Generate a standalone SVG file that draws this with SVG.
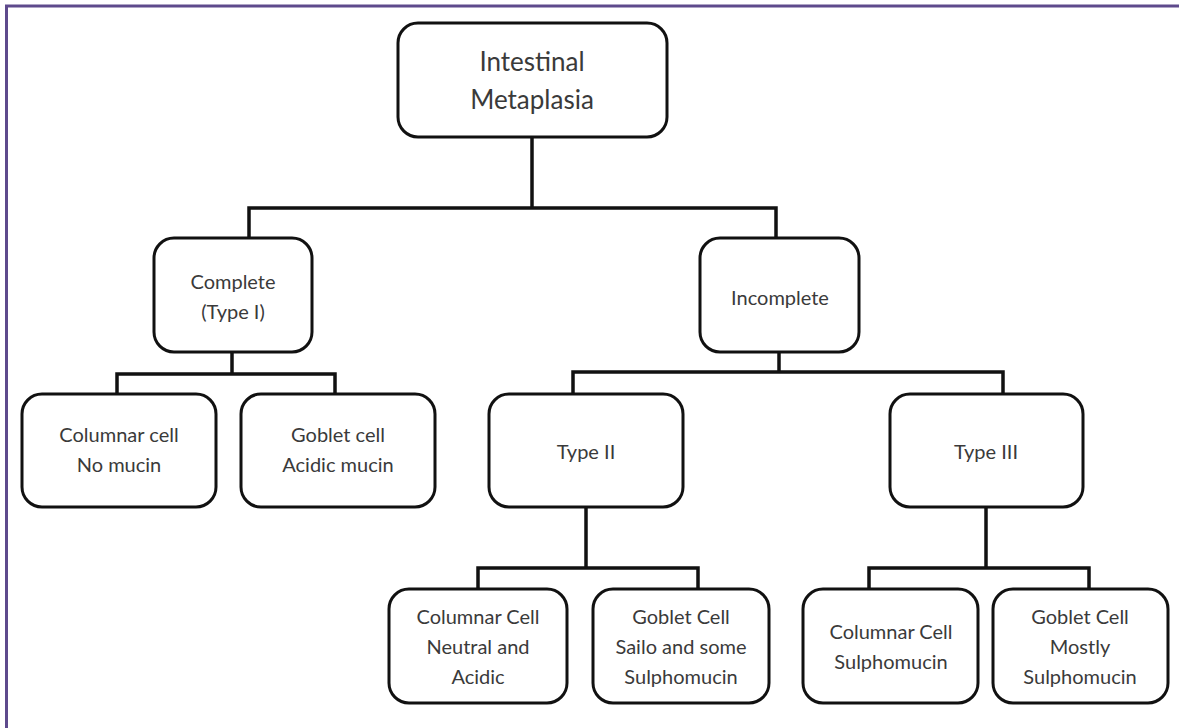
<svg xmlns="http://www.w3.org/2000/svg" width="1179" height="728" viewBox="0 0 1179 728">
<style>
  .box { fill: #ffffff; stroke: #111111; stroke-width: 3; }
  .lbl { font-family: Lato, "Liberation Sans", sans-serif; font-size: 20px; fill: #3a3a3a; text-anchor: middle; }
  .big { font-size: 26px; }
  .conn { fill: none; stroke: #111111; stroke-width: 3.5; stroke-linejoin: miter; }
  .frame { fill: none; stroke: #5e4a8c; stroke-width: 3; }
</style>
<rect width="1179" height="728" fill="#ffffff"/>
<path class="frame" d="M6.5,730 V6 H1182"/>
<g id="connectors">
  <path class="conn" d="M532,137 V208"/>
  <path class="conn" d="M249,238 V208 H776 V238"/>
  <path class="conn" d="M232,352 V374"/>
  <path class="conn" d="M117,394 V374 H335 V394"/>
  <path class="conn" d="M779,352 V372"/>
  <path class="conn" d="M573,394 V372 H1003 V394"/>
  <path class="conn" d="M586,507 V568"/>
  <path class="conn" d="M478,589 V568 H698 V589"/>
  <path class="conn" d="M986,507 V568"/>
  <path class="conn" d="M869,589 V568 H1089 V589"/>
</g>
<g id="root">
  <rect class="box" x="398" y="23" width="269" height="114" rx="20"/>
  <text class="lbl big" x="532" y="71">Intestinal</text>
  <text class="lbl big" x="532" y="109">Metaplasia</text>
</g>
<g id="complete">
  <rect class="box" x="154" y="238" width="158" height="114" rx="20"/>
  <text class="lbl" x="233" y="289">Complete</text>
  <text class="lbl" x="233" y="319">(Type I)</text>
</g>
<g id="incomplete">
  <rect class="box" x="700" y="238" width="159" height="114" rx="20"/>
  <text class="lbl" x="780" y="305">Incomplete</text>
</g>
<g id="columnar1">
  <rect class="box" x="22" y="394" width="194" height="113" rx="20"/>
  <text class="lbl" x="119" y="442">Columnar cell</text>
  <text class="lbl" x="119" y="472">No mucin</text>
</g>
<g id="goblet1">
  <rect class="box" x="241" y="394" width="194" height="113" rx="20"/>
  <text class="lbl" x="338" y="442">Goblet cell</text>
  <text class="lbl" x="338" y="472">Acidic mucin</text>
</g>
<g id="type2">
  <rect class="box" x="489" y="394" width="194" height="113" rx="20"/>
  <text class="lbl" x="586" y="459">Type II</text>
</g>
<g id="type3">
  <rect class="box" x="890" y="394" width="193" height="113" rx="20"/>
  <text class="lbl" x="986" y="459">Type III</text>
</g>
<g id="columnar2">
  <rect class="box" x="389" y="589" width="178" height="114" rx="20"/>
  <text class="lbl" x="478" y="624">Columnar Cell</text>
  <text class="lbl" x="478" y="654">Neutral and</text>
  <text class="lbl" x="478" y="684">Acidic</text>
</g>
<g id="goblet2">
  <rect class="box" x="593" y="589" width="176" height="114" rx="20"/>
  <text class="lbl" x="681" y="624">Goblet Cell</text>
  <text class="lbl" x="681" y="654">Sailo and some</text>
  <text class="lbl" x="681" y="684">Sulphomucin</text>
</g>
<g id="columnar3">
  <rect class="box" x="803" y="589" width="175" height="114" rx="20"/>
  <text class="lbl" x="891" y="639">Columnar Cell</text>
  <text class="lbl" x="891" y="669">Sulphomucin</text>
</g>
<g id="goblet3">
  <rect class="box" x="993" y="589" width="175" height="114" rx="20"/>
  <text class="lbl" x="1080" y="624">Goblet Cell</text>
  <text class="lbl" x="1080" y="654">Mostly</text>
  <text class="lbl" x="1080" y="684">Sulphomucin</text>
</g>
</svg>
